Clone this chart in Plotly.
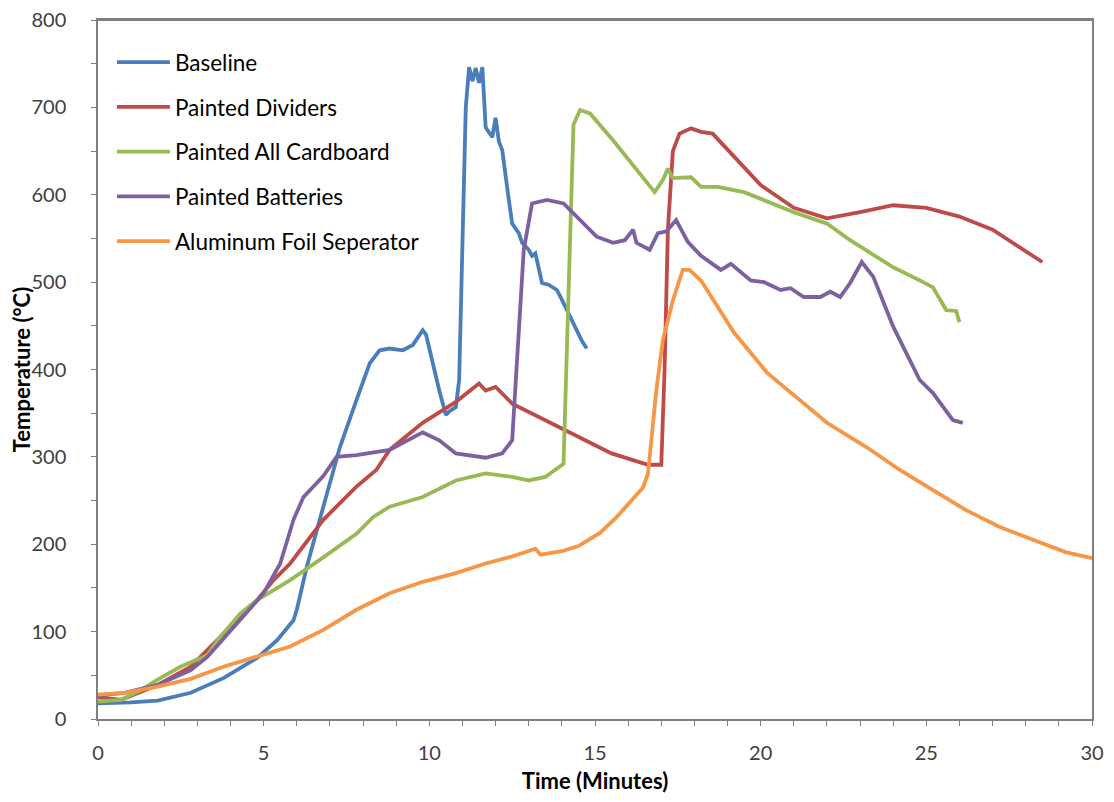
import plotly.graph_objects as go

# Baseline
base_t = [0, 0.5, 1.0, 1.8, 2.8, 3.8, 4.8, 5.4, 5.9, 6.0, 6.3, 6.8, 7.3, 7.8, 8.2, 8.5, 8.8, 9.2, 9.5, 9.8,
          9.9, 10.3, 10.5, 10.6, 10.8, 10.9, 11.0, 11.1, 11.2, 11.3, 11.4, 11.5, 11.6, 11.7, 11.9, 12.0, 12.1,
          12.2, 12.4, 12.5, 12.7, 12.8, 13.0, 13.1, 13.2, 13.4, 13.6, 13.85, 14.0, 14.15, 14.3, 14.45, 14.6, 14.75]
base_v = [18, 18, 19, 21, 30, 47, 70, 90, 113, 125, 174, 243, 311, 365, 407, 422, 424, 422, 428, 445,
          440, 376, 348, 352, 357, 388, 560, 700, 746, 730, 745, 728, 746, 677, 666, 688, 661,
          651, 594, 567, 556, 545, 537, 530, 533, 499, 497, 491, 480, 468, 455, 445, 433, 424]

# Painted Dividers
div_t = [0, 0.7, 1.8, 2.8, 3.8, 4.8, 5.3, 5.8, 6.8, 7.8, 8.4, 8.8, 9.8, 10.8, 11.5, 11.7, 12.0, 12.5,
         13.5, 14.5, 15.5, 16.6, 17.0, 17.1, 17.2, 17.35, 17.55, 17.9, 18.2, 18.55, 19.0, 19.5, 20.0, 21.0,
         22.0, 23.0, 24.0, 25.0, 26.0, 27.0, 28.0, 28.5]
div_v = [25, 22, 39, 60, 98, 136, 159, 178, 228, 266, 285, 308, 339, 363, 384, 376, 380, 361,
         342, 323, 304, 291, 291, 400, 560, 650, 670, 676, 672, 670, 652, 632, 611, 585,
         573, 580, 588, 585, 575, 560, 535, 523]

# Painted All Cardboard
card_t = [0, 0.7, 1.3, 1.8, 2.5, 2.8, 3.3, 3.6, 4.3, 4.8, 5.8, 6.8, 7.8, 8.3, 8.8, 9.8, 10.8, 11.7,
          12.5, 13.0, 13.5, 14.05, 14.2, 14.35, 14.55, 14.85, 15.55, 16.6, 16.8, 17.05, 17.2, 17.35, 17.9,
          18.2, 18.7, 19.5, 20.0, 21.0, 22.0, 22.7, 23.5, 24.0, 24.8, 25.2, 25.6, 25.9, 26.0]
card_v = [20, 22, 33, 45, 60, 65, 73, 90, 121, 136, 159, 185, 212, 231, 243, 254, 273, 281,
          277, 273, 277, 292, 500, 680, 697, 693, 662, 613, 603, 617, 630, 619, 620,
          609, 609, 603, 595, 580, 567, 548, 529, 517, 502, 494, 468, 467, 454]

# Painted Batteries
bat_t = [0, 0.8, 1.8, 2.8, 3.3, 4.3, 5.0, 5.5, 5.9, 6.2, 6.6, 6.8, 7.2, 7.8, 8.8, 9.8, 10.3, 10.8, 11.7,
         12.2, 12.5, 12.6, 12.85, 13.1, 13.55, 14.05, 14.55, 15.05, 15.55, 15.9, 16.15, 16.25, 16.65, 16.9,
         17.15, 17.45, 17.8, 18.2, 18.8, 19.1, 19.7, 20.1, 20.6, 20.9, 21.3, 21.8, 22.1, 22.4, 22.7, 23.05,
         23.4, 24.0, 24.8, 25.2, 25.8, 26.1]
bat_v = [27, 30, 39, 56, 71, 113, 144, 178, 228, 254, 270, 278, 300, 302, 308, 328, 319, 304, 299,
         304, 319, 384, 537, 590, 594, 590, 571, 552, 545, 548, 560, 545, 537, 556,
         558, 571, 546, 530, 514, 521, 502, 500, 491, 493, 483, 483, 489, 483, 499, 523,
         506, 449, 388, 373, 342, 339]

# Aluminum Foil Seperator
foil_t = [0, 0.8, 1.8, 2.8, 3.8, 4.8, 5.8, 6.8, 7.8, 8.8, 9.8, 10.8, 11.7, 12.5, 13.2, 13.35, 14.0,
          14.5, 15.15, 15.65, 16.45, 16.6, 16.85, 17.05, 17.35, 17.65, 17.85, 18.2, 19.2, 20.2, 21.2,
          22.0, 23.2, 24.2, 25.2, 26.2, 27.2, 28.2, 29.2, 30.0]
foil_v = [28, 30, 37, 46, 60, 71, 83, 102, 125, 144, 157, 167, 178, 186, 195, 188, 192,
          198, 213, 231, 265, 281, 376, 434, 479, 514, 514, 502, 442, 396, 365,
          339, 311, 285, 262, 239, 220, 205, 191, 184]

series = [
    ("Baseline", base_t, base_v, "#4A7EBB"),
    ("Painted Dividers", div_t, div_v, "#BE4B48"),
    ("Painted All Cardboard", card_t, card_v, "#98B954"),
    ("Painted Batteries", bat_t, bat_v, "#7D60A0"),
    ("Aluminum Foil Seperator", foil_t, foil_v, "#F79646"),
]

font_family = "Lato, 'Open Sans', sans-serif"
frame_color = "#7F7F7F"

fig = go.Figure()
for name, t, v, color in series:
    fig.add_trace(
        go.Scatter(
            x=t,
            y=v,
            mode="lines",
            name=name,
            legendgroup=name,
            line=dict(color=color, width=3.8),
        )
    )

axis_common = dict(
    showline=True,
    linecolor=frame_color,
    linewidth=1.5,
    mirror=True,
    ticks="outside",
    ticklen=5,
    tickcolor=frame_color,
    showgrid=False,
    zeroline=False,
    automargin=False,
    ticklabeloverflow="allow",
    tickfont=dict(family=font_family, size=20, color="#404040"),
)

# top edge of the plot frame, drawn as a shape so it is always there
fig.add_shape(type="line", xref="paper", yref="paper", x0=0, x1=1, y0=1, y1=1,
              line=dict(color=frame_color, width=2), layer="above")

# page body has an 8px margin, so the figure is kept 16px smaller than the window
fig.update_layout(
    width=1098,
    height=786,
    paper_bgcolor="white",
    plot_bgcolor="white",
    margin=dict(l=90, r=14, t=12, b=75),
    font=dict(family=font_family, color="#000000"),
    xaxis=dict(
        range=[0, 30],
        dtick=5,
        ticklabelstandoff=10,
        minor=dict(dtick=1, ticks="outside", ticklen=5, tickcolor=frame_color),
        title=dict(text="<b>Time (Minutes)</b>", font=dict(family=font_family, size=22), standoff=15),
        **axis_common,
    ),
    yaxis=dict(
        range=[0, 800],
        dtick=100,
        ticklabelstandoff=21,
        minor=dict(dtick=50, ticks="outside", ticklen=5, tickcolor=frame_color),
        title=dict(text="<b>Temperature (°C)</b>", font=dict(family=font_family, size=22), standoff=9),
        **axis_common,
    ),
    legend=dict(
        x=0.014,
        y=0.97,
        xanchor="left",
        yanchor="top",
        bgcolor="rgba(0,0,0,0)",
        font=dict(family=font_family, size=22.5, color="#000000"),
        tracegroupgap=12.5,
        itemwidth=53,
    ),
    showlegend=True,
)

fig.write_html("out.html")
